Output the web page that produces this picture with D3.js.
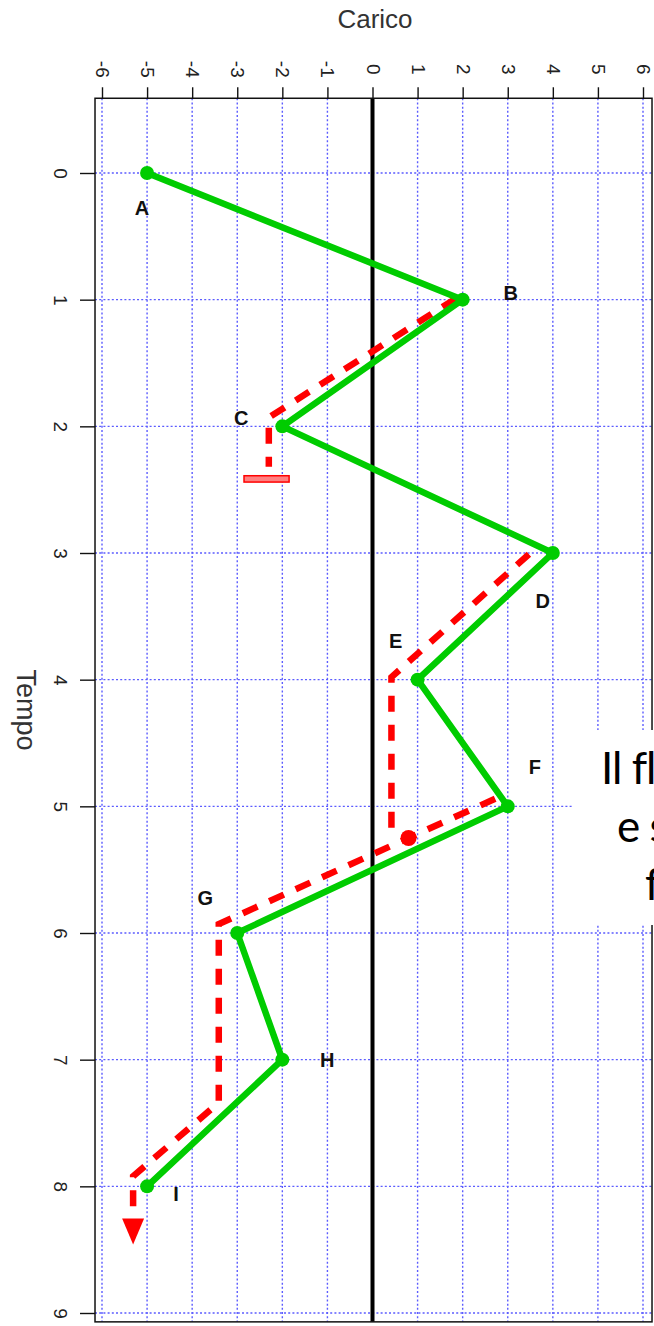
<!DOCTYPE html>
<html><head><meta charset="utf-8">
<script src="https://cdn.jsdelivr.net/npm/d3@7"></script>
<style>html,body{margin:0;padding:0;background:#fff;}svg{display:block;}</style>
</head><body>
<svg id="c" width="654" height="1326"></svg>
<script>
// ---- data ----
const xTicks = [-6,-5,-4,-3,-2,-1,0,1,2,3,4,5,6];
const yTicks = [0,1,2,3,4,5,6,7,8,9];
const tempo  = [0,1,2,3,4,5,6,7,8];
const carico = [-5,2,-2,4,1,3,-3,-2,-5];
const pointLabels = ["A","B","C","D","E","F","G","H","I"];
// rainflow paths (red dashed)
const flow1Carico = [1.85,-2.3,-2.3];
const flow1Tempo  = [0.99,1.93,2.32];
const flow2Carico = [3.47,0.42,0.42];
const flow2Tempo  = [3.01,3.98,5.18];
const flow3Carico = [2.72,-3.41,-3.41,-5.31,-5.31];
const flow3Tempo  = [4.94,5.93,7.34,7.92,8.3];
const stopBarCarico = [-2.85,-1.85];
const stopBarTempo  = [2.39,2.44];
const dropCarico = 0.8, dropTempo = 5.25;
const arrowTipCarico = -5.31, arrowTipTempo = 8.46;
const xTitle = "Carico", yTitle = "Tempo";
const noteLines = ["Il fl","e s","f"];

// ---- layout ----
const svg = d3.select("#c");
const x = d3.scaleLinear().domain([-6,6]).range([102,643]);
const y = d3.scaleLinear().domain([0,9]).range([173,1313]);
const pLeft = x(-6.155), pRight = x(6.2), pTop = y(-0.59), pBottom = y(9.07);
const font = "'Liberation Sans', Arial, sans-serif";

// grid
const grid = svg.append("g").attr("stroke","#5c5cff").attr("stroke-width",1.4).attr("stroke-dasharray","2,2.2");
grid.selectAll("line.v").data(xTicks).join("line").attr("class","v")
  .attr("x1",d=>x(d)).attr("x2",d=>x(d)).attr("y1",pTop).attr("y2",pBottom);
grid.selectAll("line.h").data(yTicks).join("line").attr("class","h")
  .attr("y1",d=>y(d)).attr("y2",d=>y(d)).attr("x1",pLeft).attr("x2",pRight);

// zero line
svg.append("line").attr("x1",x(0)).attr("x2",x(0)).attr("y1",pTop).attr("y2",pBottom)
  .attr("stroke","#000").attr("stroke-width",4);

// border
svg.append("rect").attr("x",pLeft).attr("y",pTop).attr("width",pRight-pLeft).attr("height",pBottom-pTop)
  .attr("fill","none").attr("stroke","#111").attr("stroke-width",1.5);

// axes
const fmt = d => String(d);
const ax = svg.append("g").attr("transform",`translate(0,${pTop})`)
  .call(d3.axisTop(x).tickValues(xTicks).tickSize(11).tickSizeOuter(0).tickFormat(fmt));
ax.select(".domain").remove();
ax.selectAll("line").attr("stroke","#111").attr("stroke-width",1.4);
ax.selectAll("text").attr("x",0).attr("y",0).attr("dy",null)
  .attr("text-anchor","middle").attr("dominant-baseline","central")
  .attr("transform","translate(0,-29) rotate(90)")
  .style("font-family",font).style("font-size","19px").attr("fill","#222");

const ay = svg.append("g").attr("transform",`translate(${pLeft},0)`)
  .call(d3.axisLeft(y).tickValues(yTicks).tickSize(15).tickSizeOuter(0).tickFormat(fmt));
ay.select(".domain").remove();
ay.selectAll("line").attr("stroke","#111").attr("stroke-width",1.4);
ay.selectAll("text").attr("x",0).attr("y",0).attr("dy",null)
  .attr("text-anchor","middle").attr("dominant-baseline","central")
  .attr("transform","translate(-35,0) rotate(90)")
  .style("font-family",font).style("font-size","19px").attr("fill","#222");

// titles
svg.append("text").attr("x",375).attr("y",28).attr("text-anchor","middle")
  .style("font-family",font).style("font-size","26px").attr("fill","#333").text(xTitle);
svg.append("text").attr("text-anchor","middle").attr("dominant-baseline","central")
  .attr("transform",`translate(26,${(pTop+pBottom)/2}) rotate(90)`)
  .style("font-family",font).style("font-size","27px").attr("fill","#333").text(yTitle);

// red rainflow paths
const line = d3.line().x(d=>x(d[0])).y(d=>y(d[1]));
const red = "#ff0000";
function flow(cs,ts){
  svg.append("path").attr("d",line(d3.zip(cs,ts))).attr("fill","none")
    .attr("stroke",red).attr("stroke-width",6.5).attr("stroke-dasharray","16,13");
}
flow(flow1Carico,flow1Tempo);
flow(flow2Carico,flow2Tempo);
flow(flow3Carico,flow3Tempo);
svg.append("rect").attr("x",x(stopBarCarico[0])).attr("y",y(stopBarTempo[0]))
  .attr("width",x(stopBarCarico[1])-x(stopBarCarico[0])).attr("height",y(stopBarTempo[1])-y(stopBarTempo[0]))
  .attr("fill","#ff8080").attr("stroke",red).attr("stroke-width",1.5);
svg.append("circle").attr("cx",x(dropCarico)).attr("cy",y(dropTempo)).attr("r",8).attr("fill",red);
{
  const tx = x(arrowTipCarico), ty = y(arrowTipTempo);
  svg.append("path").attr("d",`M${tx},${ty} L${tx-11},${ty-26} L${tx+11},${ty-26} Z`).attr("fill",red);
}

// green load history
const pts = d3.zip(carico,tempo);
svg.append("path").attr("d",line(pts)).attr("fill","none").attr("stroke","#00cc00")
  .attr("stroke-width",6.5).attr("stroke-linejoin","round");
svg.selectAll("circle.p").data(pts).join("circle").attr("class","p")
  .attr("cx",d=>x(d[0])).attr("cy",d=>y(d[1])).attr("r",7).attr("fill","#00cc00");

// point labels
const labelOffsets = [[-5,35],[48,-7],[-41,-8],[-10,48],[-22,-39],[27,-39],[-32,-35],[45,0],[29,8]];
svg.selectAll("text.pl").data(pts).join("text").attr("class","pl")
  .attr("x",(d,i)=>x(d[0])+labelOffsets[i][0]).attr("y",(d,i)=>y(d[1])+labelOffsets[i][1])
  .attr("text-anchor","middle").attr("dominant-baseline","central")
  .style("font-family",font).style("font-size","20px").style("font-weight","bold").attr("fill","#111")
  .text((d,i)=>pointLabels[i]);

// overlay note box (cut at the right edge as in the reference)
svg.append("rect").attr("x",572).attr("y",730).attr("width",90).attr("height",195).attr("fill","#fff");
const noteX = [601,617,645], noteY = [784,842,900];
svg.selectAll("text.note").data(noteLines).join("text").attr("class","note")
  .attr("x",(d,i)=>noteX[i]).attr("y",(d,i)=>noteY[i])
  .style("font-family","Lato, 'Open Sans', sans-serif").style("font-size","44px")
  .style("letter-spacing","-1px").attr("fill","#000")
  .text(d=>d);
</script>
</body></html>
